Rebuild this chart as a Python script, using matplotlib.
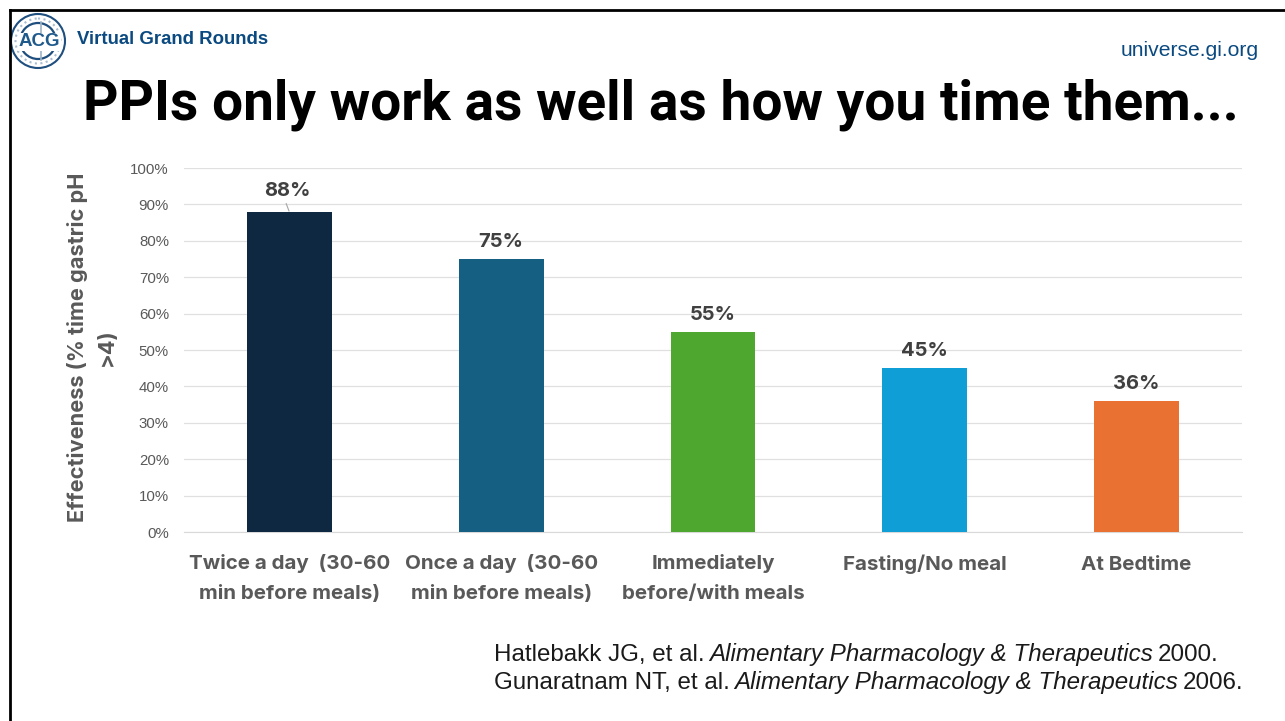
import matplotlib
matplotlib.use("Agg")
import matplotlib.pyplot as plt
from matplotlib.patches import Circle

plt.rcParams['font.family'] = ['Liberation Sans', 'DejaVu Sans']

W, H = 1285, 721

categories = ["Twice a day  (30-60\nmin before meals)", "Once a day  (30-60\nmin before meals)",
              "Immediately\nbefore/with meals", "Fasting/No meal", "At Bedtime"]
values = [88, 75, 55, 45, 36]
colors = ["#0E2841", "#156082", "#4EA72E", "#0F9ED5", "#E97132"]
yticks = [0, 10, 20, 30, 40, 50, 60, 70, 80, 90, 100]


def px(x, y):
    return x / W, 1 - y / H


fig = plt.figure(figsize=(12.85, 7.21), dpi=100, facecolor="white")

# slide frame
fig.add_artist(plt.Line2D([9.5 / W, 9.5 / W], [0, 1 - 10 / H], color="black", lw=2))
fig.add_artist(plt.Line2D([9.5 / W, 1], [1 - 10 / H, 1 - 10 / H], color="black", lw=2))

# chart
ax = fig.add_axes([183.5 / W, 1 - 532 / H, 1059 / W, 364 / H])
bars = ax.bar(range(len(values)), values, width=0.4, color=colors, zorder=3)
ax.set_xlim(-0.5, 4.5)
ax.set_ylim(0, 100)
ax.set_yticks(yticks)
ax.set_yticklabels([f"{t}%" for t in yticks], fontsize=10.8, color="#595959", va="center_baseline")
ax.set_xticks(range(len(categories)))
ax.set_xticklabels(categories, fontsize=14.8, fontweight="bold", color="#595959",
                   family=["Inter"], linespacing=1.9, va="baseline")
ax.tick_params(axis="both", length=0)
ax.tick_params(axis="y", pad=10.5)
# baseline alignment holds the last line, so two-line labels need more pad
for tick, cat in zip(ax.xaxis.get_major_ticks(), categories):
    tick.set_pad(48.5 if "\n" in cat else 27)
ax.grid(axis="y", color="#E0E0E0", lw=0.9, zorder=0)
for s in ["top", "right", "left"]:
    ax.spines[s].set_visible(False)
ax.spines["bottom"].set_color("#D9D9D9")

for i, v in enumerate(values):
    ax.text(i - (0.01 if i == 0 else 0), v + 2.2 if i else v + 3.3, f"{v}%", ha="center", va="bottom",
            fontsize=14.5, fontweight="bold", color="#404040", family=["Inter"])
# leader line on first label
ax.plot([-0.015, -0.002], [90.2, 88.2], color="#A6A6A6", lw=0.8, zorder=4)

fig.text(*px(92, 347.5), "Effectiveness (% time gastric pH\n>4)", rotation=90, ha="center", va="center",
         fontsize=15.7, fontweight="bold", color="#595959", family=["Inter"], linespacing=1.6,
         multialignment="center")

# header
fig.text(*px(83, 105), "PPIs only work as well as how you time them...", fontsize=39.6,
         fontweight="bold", color="black", va="center", family=["Roboto"])
fig.text(*px(77, 40), "Virtual Grand Rounds", fontsize=13.4, fontweight="bold", color="#0B4A80", va="center")
fig.text(*px(1259, 51), "universe.gi.org", fontsize=15.2, color="#0B4A80", va="center", ha="right")

# logo
logo = fig.add_axes([10 / W, 1 - 70 / H, 58 / W, 58 / H])
logo.set_xlim(0, 58)
logo.set_ylim(58, 0)
logo.axis("off")
logo.add_patch(Circle((28, 29), 27, fc="white", ec="#1F4F7F", lw=1.5))
logo.add_patch(Circle((28, 29), 22.5, fc="none", ec="#A9BDD1", lw=1.5, ls=":"))
logo.add_patch(Circle((28, 29), 18, fc="white", ec="#1F4F7F", lw=1.6))
logo.plot([31, 31], [10, 48], color="#9DB4C6", lw=1.2)
logo.text(29.5, 30, "ACG", ha="center", va="center", fontsize=13.5, fontweight="bold", color="#1F5A8C",
          bbox=dict(fc="white", ec="none", pad=0.5))


# references, roman and italic runs placed one after the other
def ref_line(y, parts):
    x = 494
    rend = fig.canvas.get_renderer()
    for txt, style in parts:
        t = fig.text(*px(x, y), txt, fontsize=17.4, color="#1a1a1a", va="baseline", style=style)
        x += t.get_window_extent(rend).width + 4.5


ref_line(661, [("Hatlebakk JG, et al.", "normal"), ("Alimentary Pharmacology & Therapeutics", "italic"),
               ("2000.", "normal")])
ref_line(689, [("Gunaratnam NT, et al.", "normal"), ("Alimentary Pharmacology & Therapeutics", "italic"),
               ("2006.", "normal")])

fig.savefig("out.png", dpi=100, facecolor="white")
